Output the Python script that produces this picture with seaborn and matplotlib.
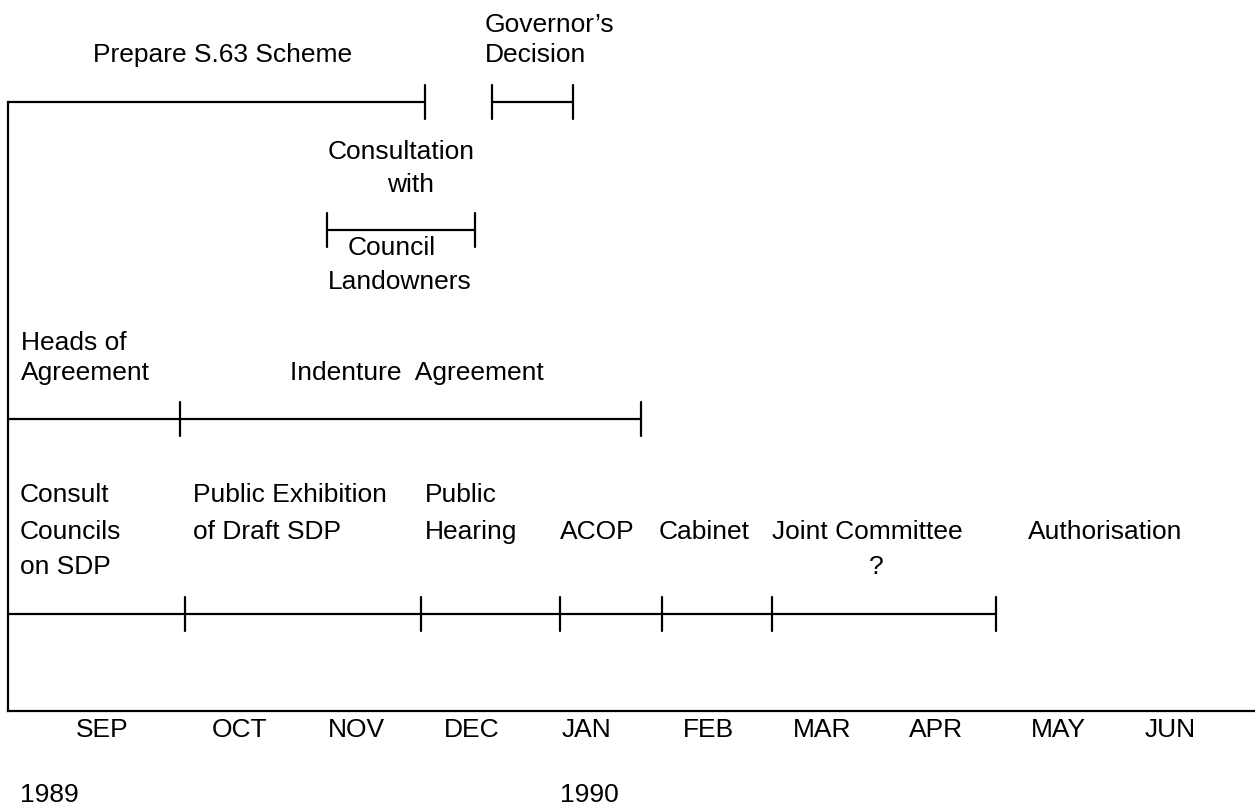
import pandas as pd
import matplotlib
matplotlib.use("Agg")
import matplotlib.pyplot as plt
import seaborn as sns

# x axis is in months from SEP 1989 (0 = SEP label), y is height above the baseline
months = ["SEP", "OCT", "NOV", "DEC", "JAN", "FEB", "MAR", "APR", "MAY", "JUN"]
month_pos = [0.0, 1.169, 2.153, 3.136, 4.102, 5.136, 6.102, 7.068, 8.102, 9.051]
years = ["1989", "1990"]
year_pos = [-0.695, 3.881]

# horizontal bars: name, start, end, level
bar_names = ["prepare", "governor", "consultation", "indenture", "sdp"]
bar_start = [-0.797, 3.305, 1.907, -0.797, -0.797]
bar_end = [2.737, 3.992, 3.161, 4.568, 7.576]
bar_level = [609, 609, 481, 292, 97]

# milestone ticks on each bar
tick_bar = ["prepare", "governor", "governor", "consultation", "consultation",
            "indenture", "indenture",
            "sdp", "sdp", "sdp", "sdp", "sdp", "sdp"]
tick_x = [2.737, 3.305, 3.992, 1.907, 3.161,
          0.661, 4.568,
          0.703, 2.703, 3.881, 4.746, 5.678, 7.576]

# labels: text, x, y, alignment
label_text = ["Prepare S.63 Scheme", "Governor’s", "Decision",
              "Consultation", "with", "Council", "Landowners",
              "Heads of", "Agreement", "Indenture  Agreement",
              "Consult", "Councils", "on SDP",
              "Public Exhibition", "of Draft SDP",
              "Public", "Hearing", "ACOP", "Cabinet",
              "Joint Committee", "?", "Authorisation"]
label_x = [-0.076, 3.246, 3.246,
           1.915, 2.415, 2.085, 1.915,
           -0.686, -0.686, 1.593,
           -0.695, -0.695, -0.695,
           0.771, 0.771,
           2.737, 2.737, 3.881, 4.720,
           5.678, 6.559, 7.847]
label_y = [656, 686, 656,
           559, 526, 463, 429,
           368, 338, 338,
           216, 179, 144,
           216, 179,
           216, 179, 179, 179,
           179, 144, 179]
label_ha = ["left"] * 20 + ["center", "left"]

tick_half = 17

rows = []
for name, s, e, lv in zip(bar_names, bar_start, bar_end, bar_level):
    rows.append({"seg": name, "x": s, "y": lv})
    rows.append({"seg": name, "x": e, "y": lv})
level_of = dict(zip(bar_names, bar_level))
for i, (name, tx) in enumerate(zip(tick_bar, tick_x)):
    lv = level_of[name]
    rows.append({"seg": f"t{i}", "x": tx, "y": lv - tick_half})
    rows.append({"seg": f"t{i}", "x": tx, "y": lv + tick_half})
df = pd.DataFrame(rows)

sns.set_theme(style="white")
plt.rcParams["font.family"] = ["Liberation Sans", "DejaVu Sans"]

fig = plt.figure(figsize=(12.55, 8.06), dpi=100)
ax = fig.add_axes([8 / 1255, 95 / 806, 1247 / 1255, 711 / 806])

sns.lineplot(data=df, x="x", y="y", units="seg", estimator=None, sort=False,
             color="black", linewidth=1.6, ax=ax, legend=False)

for t, x, y, ha in zip(label_text, label_x, label_y, label_ha):
    ax.text(x, y, t, ha=ha, va="center", fontsize=19, color="black")

for t, x in zip(years, year_pos):
    ax.text(x, -84, t, ha="left", va="center", fontsize=19, color="black", clip_on=False)

ax.set_xlim(-0.797, 9.771)
ax.set_ylim(0, 711)
ax.set_xticks(month_pos)
ax.set_xticklabels(months, fontsize=19, color="black")
ax.tick_params(axis="x", length=0, pad=5, colors="black")
ax.set_yticks([])
ax.set_xlabel("")
ax.set_ylabel("")
for side in ["top", "right"]:
    ax.spines[side].set_visible(False)
for side in ["left", "bottom"]:
    ax.spines[side].set_color("black")
    ax.spines[side].set_linewidth(1.6)
ax.spines["left"].set_bounds(0, 609)

fig.savefig("out.png", dpi=100, facecolor="white")
